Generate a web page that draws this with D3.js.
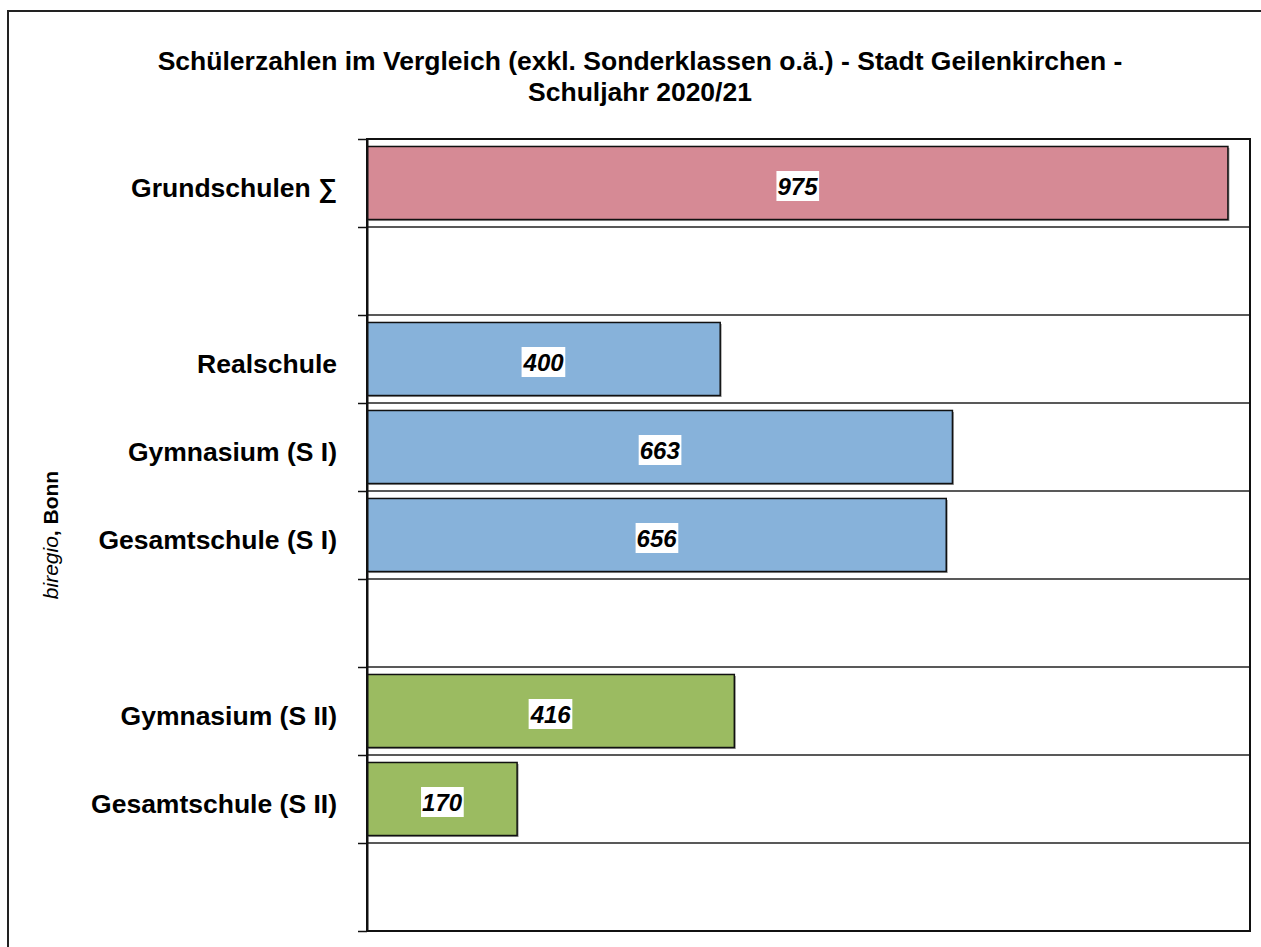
<!DOCTYPE html>
<html>
<head>
<meta charset="utf-8">
<script src="https://cdn.jsdelivr.net/npm/d3@7"></script>
<style>
  body { margin: 0; background: #fff; }
  svg { display: block; font-family: "Liberation Sans", Arial, sans-serif; }
</style>
</head>
<body>
<svg id="chart"></svg>
<script>
// rows of the chart, blank rows are gaps between school levels
const categories = ["Grundschulen \u2211", "", "Realschule", "Gymnasium (S I)", "Gesamtschule (S I)", "", "Gymnasium (S II)", "Gesamtschule (S II)", ""];
const values = [975, null, 400, 663, 656, null, 416, 170, null];
const groups = ["primar", null, "sek1", "sek1", "sek1", null, "sek2", "sek2", null];
const titleLines = ["Schülerzahlen im Vergleich (exkl. Sonderklassen o.ä.) - Stadt Geilenkirchen -", "Schuljahr 2020/21"];
const xDomain = [0, 1000];

const width = 1261, height = 947;
const margin = ({top: 139, right: 11, bottom: 16, left: 367});
const colors = ({primar: "#d68a95", sek1: "#87b2da", sek2: "#9bbb61"});

const svg = d3.select("#chart")
    .attr("width", width)
    .attr("height", height)
    .attr("viewBox", [0, 0, width, height]);

// outer frame (runs off the right and bottom edge like the original)
svg.append("rect")
    .attr("x", 8).attr("y", 11)
    .attr("width", width + 20).attr("height", height + 20)
    .attr("fill", "none")
    .attr("stroke", "#222")
    .attr("stroke-width", 2);

const x = d3.scaleLinear()
    .domain(xDomain)
    .range([margin.left, width - margin.right]);

const idx = d3.range(categories.length);

const y = d3.scaleBand()
    .domain(idx)
    .range([margin.top, height - margin.bottom])
    .paddingInner(0.17)
    .paddingOuter(0.085);

// boundaries between rows
const yb = d3.scaleLinear()
    .domain([0, categories.length])
    .range([margin.top, height - margin.bottom]);

// title
svg.append("g")
    .attr("font-weight", "bold")
    .attr("font-size", 26.5)
    .attr("text-anchor", "middle")
  .selectAll("text")
  .data(titleLines)
  .join("text")
    .attr("x", 640)
    .attr("y", (d, i) => 70 + i * 31)
    .text(d => d);

// grid lines
svg.append("g")
    .attr("stroke", "#222")
    .attr("stroke-width", 1.5)
  .selectAll("line")
  .data(d3.range(1, categories.length))
  .join("line")
    .attr("x1", margin.left)
    .attr("x2", width - margin.right)
    .attr("y1", d => yb(d))
    .attr("y2", d => yb(d));

// bars
const rows = idx.filter(i => values[i] != null);

svg.append("g")
    .attr("fill", "#9a9a9a")
  .selectAll("rect")
  .data(rows)
  .join("rect")
    .attr("x", x(0) + 1.5)
    .attr("y", i => y(i) + 1.5)
    .attr("width", i => x(values[i]) - x(0))
    .attr("height", y.bandwidth());

svg.append("g")
    .attr("stroke", "#111")
    .attr("stroke-width", 1.5)
  .selectAll("rect")
  .data(rows)
  .join("rect")
    .attr("x", x(0))
    .attr("y", i => y(i))
    .attr("width", i => x(values[i]) - x(0))
    .attr("height", y.bandwidth())
    .attr("fill", i => colors[groups[i]]);

// value labels on white boxes
const lab = svg.append("g")
  .selectAll("g")
  .data(rows)
  .join("g")
    .attr("transform", i => `translate(${(x(0) + x(values[i])) / 2},${y(i) + y.bandwidth() / 2})`);

lab.append("rect").attr("fill", "#fff");

lab.append("text")
    .attr("text-anchor", "middle")
    .attr("y", 12)
    .attr("font-size", 24)
    .attr("font-weight", "bold")
    .attr("font-style", "italic")
    .text(i => values[i]);

lab.each(function() {
    const g = d3.select(this);
    const b = g.select("text").node().getBBox();
    g.select("rect")
        .attr("x", b.x - 1)
        .attr("y", -12)
        .attr("width", b.width + 2)
        .attr("height", 30);
});

// plot frame
svg.append("rect")
    .attr("x", margin.left)
    .attr("y", margin.top)
    .attr("width", width - margin.right - margin.left)
    .attr("height", height - margin.bottom - margin.top)
    .attr("fill", "none")
    .attr("stroke", "#111")
    .attr("stroke-width", 2);

// category axis with ticks on row boundaries
svg.append("g")
    .attr("transform", `translate(${margin.left},0)`)
    .call(d3.axisLeft(yb).tickValues(d3.range(categories.length + 1)).tickSize(9).tickSizeOuter(0).tickFormat(""))
    .call(g => g.selectAll("line").attr("stroke", "#111").attr("stroke-width", 1.5))
    .call(g => g.select(".domain").attr("stroke", "#111").attr("stroke-width", 2));

// category labels
svg.append("g")
    .attr("font-weight", "bold")
    .attr("font-size", 26.5)
    .attr("text-anchor", "end")
  .selectAll("text")
  .data(idx)
  .join("text")
    .attr("x", 337)
    .attr("y", i => y(i) + y.bandwidth() / 2 + 14)
    .text(i => categories[i]);

// source note on the left
const src = svg.append("text")
    .attr("transform", "translate(58,535) rotate(-90)")
    .attr("text-anchor", "middle")
    .attr("font-size", 21);
src.append("tspan").attr("font-style", "italic").text("biregio");
src.append("tspan").attr("font-weight", "bold").text(", Bonn");
</script>
</body>
</html>
